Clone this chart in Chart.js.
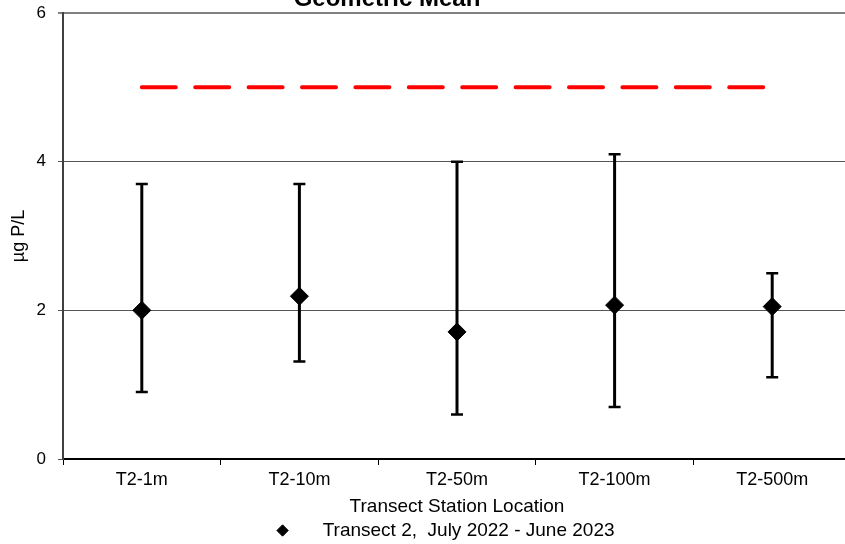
<!DOCTYPE html>
<html>
<head>
<meta charset="utf-8">
<script src="https://cdn.jsdelivr.net/npm/chart.js@4.4.0/dist/chart.umd.min.js"></script>
<style>
  html, body { margin: 0; padding: 0; overflow: hidden; background: #fff; }
  #wrap { width: 851px; height: 550px; }
</style>
</head>
<body>
<div id="wrap"><canvas id="meanChart" width="851" height="550"></canvas></div>
<script>
// values
var stations = ["T2-1m", "T2-10m", "T2-50m", "T2-100m", "T2-500m"];
var geoMean = [2.0, 2.19, 1.71, 2.07, 2.05];
var upperVal = [3.7, 3.7, 4.0, 4.1, 2.5];
var lowerVal = [0.9, 1.31, 0.6, 0.7, 1.1];
var targetLine = [5, 5, 5, 5, 5];
var yTicks = [0, 2, 4, 6];
var seriesName = "Transect 2,  July 2022 - June 2023";

var fontName = "'Liberation Sans', Arial, sans-serif";

// error bars, under the diamonds
var errorBars = {
  id: "errorBars",
  beforeDatasetsDraw: function(chart) {
    var ctx = chart.ctx;
    var xs = chart.scales.x, ys = chart.scales.y;
    ctx.save();
    ctx.strokeStyle = "#000";
    for (var i = 0; i < stations.length; i++) {
      var x = xs.getPixelForValue(i);
      var top = ys.getPixelForValue(upperVal[i]);
      var bot = ys.getPixelForValue(lowerVal[i]);
      ctx.lineWidth = 3;
      ctx.beginPath();
      ctx.moveTo(x, top);
      ctx.lineTo(x, bot);
      ctx.stroke();
      ctx.lineWidth = 2.5;
      ctx.beginPath();
      ctx.moveTo(x - 6, top); ctx.lineTo(x + 6, top);
      ctx.moveTo(x - 6, bot); ctx.lineTo(x + 6, bot);
      ctx.stroke();
    }
    ctx.restore();
  }
};

// the title is cut off by the top edge in the original
var clippedTitle = {
  id: "clippedTitle",
  afterDraw: function(chart) {
    var ctx = chart.ctx;
    ctx.save();
    ctx.font = "bold 24px " + fontName;
    ctx.fillStyle = "#000";
    ctx.textAlign = "center";
    ctx.textBaseline = "alphabetic";
    ctx.fillText("Geometric Mean", 387, 6);
    ctx.restore();
  }
};

var chartData = {
  labels: stations,
  datasets: [
    {
      label: seriesName,
      data: geoMean,
      showLine: false,
      pointStyle: "rectRot",
      pointRadius: 9,
      pointBorderWidth: 1,
      backgroundColor: "#000",
      borderColor: "#000",
      pointBackgroundColor: "#000",
      pointBorderColor: "#000",
      order: 0
    },
    {
      label: "target",
      data: targetLine,
      borderColor: "#ff0000",
      borderWidth: 4,
      borderDash: [34, 19.4],
      borderCapStyle: "round",
      pointRadius: 0,
      fill: false,
      order: 1
    }
  ]
};

var ctx = document.getElementById("meanChart").getContext("2d");
var meanChart = new Chart(ctx, {
  type: "line",
  data: chartData,
  plugins: [errorBars, clippedTitle],
  options: {
    responsive: false,
    animation: false,
    layout: { autoPadding: false, padding: { top: 13, left: 0, right: 0, bottom: 0 } },
    plugins: {
      title: { display: false },
      tooltip: { enabled: false },
      legend: {
        position: "bottom",
        fullSize: false,
        labels: {
          usePointStyle: true,
          boxHeight: 8,
          padding: 0,
          color: "#000",
          font: { family: fontName, size: 19 },
          filter: function(item) { return item.datasetIndex === 0; },
          generateLabels: function(chart) {
            var items = Chart.defaults.plugins.legend.labels.generateLabels(chart);
            // gap between diamond and text, and shift toward the left as in the original
            items.forEach(function(it) { it.text = "    " + it.text + "     "; });
            return items;
          }
        }
      }
    },
    scales: {
      x: {
        offset: true,
        grid: {
          display: true, drawOnChartArea: false, drawTicks: true,
          tickLength: 6, offset: true, color: "#000", lineWidth: 1
        },
        border: { display: true, color: "#000", width: 2 },
        ticks: {
          color: "#000", padding: 4, maxRotation: 0, autoSkip: false,
          font: { family: fontName, size: 18 }
        },
        title: {
          display: true, text: "Transect Station Location", color: "#000",
          font: { family: fontName, size: 19 }, padding: { top: 0, bottom: 3 }
        },
        afterFit: function(scale) {
          scale.height = 62;
          scale.paddingLeft = 0;
          scale.paddingRight = 0;
        }
      },
      y: {
        min: 0,
        max: 6,
        afterBuildTicks: function(scale) {
          scale.ticks = yTicks.map(function(v) { return { value: v }; });
        },
        grid: {
          color: function(c) { return c.tick && c.tick.value === 6 ? "#808080" : "#555555"; },
          lineWidth: function(c) { return c.tick && c.tick.value === 6 ? 2 : 1; },
          tickLength: 5,
          drawTicks: true
        },
        border: { color: "#404040", width: 2 },
        ticks: {
          color: "#000", padding: 12,
          font: { family: fontName, size: 17 }
        },
        title: {
          display: true, text: "µg P/L", color: "#000",
          font: { family: fontName, size: 18 }, padding: { top: 8, bottom: 0 }
        },
        afterFit: function(scale) {
          scale.width = 63;
          scale.paddingTop = 0;
          scale.paddingBottom = 0;
        }
      }
    }
  }
});
</script>
</body>
</html>
